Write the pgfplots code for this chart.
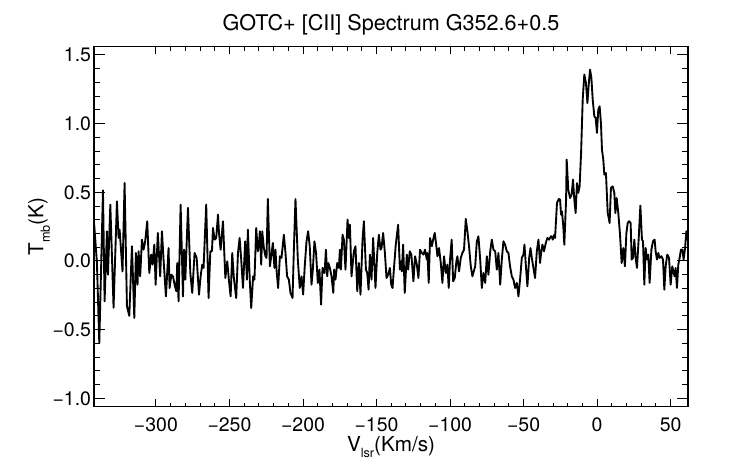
\documentclass[border=0pt]{standalone}
\usepackage{fontspec}
\setmainfont{TeX Gyre Heros}
\usepackage{pgfplots}
\usepackage{pgfplotstable}
\pgfplotsset{compat=1.18}
\newcommand{\sub}[1]{\raisebox{-0.32em}{\fontsize{9.5}{9.5}\selectfont #1}}
\pgfplotstableread{
v T
-342.0 0.270
-340.1 -0.015
-338.5 -0.598
-336.0 0.514
-334.9 -0.294
-333.3 0.216
-332.6 -0.100
-331.0 0.410
-328.8 -0.340
-326.5 0.434
-325.4 0.167
-324.7 0.228
-322.7 -0.076
-321.3 0.568
-319.7 -0.330
-318.1 -0.400
-316.3 0.107
-314.7 -0.415
-313.6 0.058
-312.5 -0.173
-311.8 0.070
-310.7 -0.112
-309.5 0.155
-308.4 0.082
-307.3 0.143
-305.9 0.289
-304.5 -0.088
-303.2 0.046
-302.3 -0.027
-301.1 0.119
-300.2 -0.173
-298.7 0.204
-297.1 -0.112
-295.9 0.216
-294.8 0.010
-293.2 -0.258
-291.4 0.094
-290.7 -0.197
-289.5 -0.100
-288.4 -0.112
-287.3 -0.173
-286.1 -0.221
-285.5 -0.015
-284.6 -0.294
-283.2 0.410
-281.6 -0.258
-280.9 0.082
-280.0 -0.136
-278.2 0.386
-276.6 -0.088
-275.3 -0.233
-273.7 0.058
-272.3 0.022
-270.7 -0.245
-269.6 -0.112
-268.5 -0.027
-267.6 -0.051
-265.8 0.410
-264.2 -0.270
-263.0 0.070
-261.9 0.070
-261.2 0.240
-260.1 0.155
-259.0 0.167
-257.8 0.337
-257.1 0.204
-256.0 0.082
-254.4 0.289
-252.8 -0.124
-251.5 -0.003
-250.3 -0.148
-249.2 -0.258
-248.1 0.058
-247.0 -0.124
-245.4 -0.270
-244.2 0.058
-243.1 0.167
-242.0 0.010
-240.8 -0.197
-239.3 0.143
-238.1 -0.136
-237.5 0.228
-236.1 -0.160
-235.2 -0.343
-233.9 -0.112
-233.0 -0.136
-231.8 0.240
-230.7 0.070
-230.0 0.119
-229.3 0.216
-228.4 -0.027
-227.7 0.216
-226.6 0.094
-225.5 0.034
-224.8 0.022
-223.9 0.451
-222.5 -0.039
-221.4 0.046
-220.5 0.131
-219.4 -0.051
-218.7 0.082
-218.0 -0.063
-216.9 -0.197
-215.7 0.034
-214.6 0.022
-213.0 0.191
-211.9 0.058
-210.8 -0.112
-209.6 -0.136
-208.5 -0.233
-207.1 -0.270
-206.2 0.082
-205.1 0.451
-203.5 0.010
-202.2 -0.197
-201.0 -0.112
-199.9 -0.245
-198.8 -0.039
-197.6 0.143
-196.5 0.216
-195.4 0.107
-194.2 -0.173
-193.3 -0.063
-192.2 0.143
-191.1 0.058
-189.9 -0.160
-188.8 -0.063
-187.7 -0.318
-186.7 -0.051
-185.3 -0.088
-184.4 0.082
-183.5 -0.112
-182.8 -0.015
-181.7 -0.051
-180.6 -0.112
-179.4 -0.233
-178.8 -0.063
-177.9 -0.136
-176.7 -0.015
-175.6 -0.051
-174.9 0.082
-174.2 -0.063
-173.1 0.191
-172.2 0.155
-171.1 -0.063
-169.7 0.301
-168.8 0.167
-168.1 0.264
-167.0 -0.112
-165.4 0.070
-164.3 0.107
-163.1 -0.221
-162.0 -0.015
-160.9 -0.245
-159.5 0.155
-158.6 0.289
-157.2 -0.063
-156.3 -0.088
-155.4 -0.209
-154.5 0.046
-153.4 -0.136
-152.3 0.167
-150.7 -0.197
-149.5 0.058
-148.4 0.191
-147.3 0.082
-146.6 0.094
-145.5 0.204
-144.3 0.058
-143.2 -0.124
-142.1 -0.100
-140.9 -0.051
-140.0 -0.173
-139.1 -0.197
-138.2 -0.063
-136.9 0.119
-135.3 0.264
-134.1 -0.063
-133.5 -0.003
-132.8 -0.076
-131.9 0.119
-130.8 -0.233
-129.4 0.046
-128.5 -0.063
-127.4 0.070
-126.3 0.046
-124.9 -0.148
-123.8 0.034
-122.6 -0.027
-121.5 -0.124
-120.4 0.082
-119.2 0.058
-118.1 0.046
-117.0 0.082
-115.8 0.010
-115.4 0.058
-114.5 -0.160
-113.6 0.167
-112.4 0.107
-111.5 0.155
-110.4 0.204
-109.3 0.107
-108.6 0.034
-107.5 0.094
-106.3 -0.015
-105.2 -0.160
-104.1 0.034
-102.9 -0.088
-101.8 -0.027
-100.9 -0.197
-100.0 0.010
-98.9 0.155
-97.9 -0.148
-96.8 -0.124
-95.7 -0.003
-95.0 0.034
-93.9 -0.076
-92.7 0.022
-91.6 0.058
-90.5 0.082
-89.3 0.306
-88.2 0.216
-87.1 0.107
-85.9 -0.039
-84.8 -0.112
-82.9 -0.039
-81.8 0.143
-80.7 0.179
-79.5 0.010
-78.4 -0.197
-77.3 -0.088
-76.1 -0.160
-75.0 0.034
-73.9 -0.100
-72.7 0.070
-71.6 0.155
-70.5 0.082
-69.3 0.070
-68.2 -0.063
-67.1 0.058
-65.9 -0.173
-64.8 0.010
-63.7 0.143
-62.6 0.119
-61.4 0.070
-60.3 0.058
-59.2 -0.039
-58.0 -0.112
-56.9 -0.136
-55.8 -0.197
-54.6 -0.160
-53.5 -0.258
-52.4 -0.136
-51.2 0.022
-50.1 0.046
-49.4 0.119
-48.5 -0.027
-47.4 -0.185
-46.2 0.022
-45.3 0.094
-44.4 0.022
-43.3 -0.051
-42.2 -0.124
-41.0 0.070
-39.9 0.155
-38.8 -0.015
-38.1 0.058
-37.2 0.119
-36.1 0.070
-34.9 0.131
-33.8 0.167
-32.7 0.155
-31.5 0.179
-30.9 0.179
-30.2 0.155
-29.1 0.191
-28.6 0.167
-27.3 0.422
-26.1 0.451
-25.2 0.446
-24.5 0.337
-23.9 0.361
-23.0 0.252
-22.3 0.118
-21.1 0.446
-20.7 0.738
-19.6 0.519
-18.4 0.458
-17.3 0.483
-16.4 0.592
-15.5 0.446
-14.6 0.349
-13.7 0.567
-12.8 0.495
-11.9 0.543
-10.9 0.786
-9.8 1.175
-8.7 1.357
-7.6 1.296
-6.6 1.150
-5.7 1.284
-4.8 1.393
-3.9 1.332
-3.0 1.175
-1.9 1.053
-1.0 1.041
-0.1 0.932
0.8 1.102
1.7 1.126
2.6 1.005
3.3 0.810
4.2 0.738
4.9 0.628
6.0 0.640
7.2 0.349
7.9 0.313
8.5 0.276
9.4 0.531
10.6 0.543
11.7 0.495
12.4 0.349
13.3 0.458
14.4 0.349
15.5 0.203
16.7 -0.015
17.8 0.094
18.9 -0.039
19.9 0.203
20.8 0.276
21.7 0.289
22.8 0.276
23.5 0.010
24.4 0.022
25.3 0.155
26.2 0.022
27.1 -0.051
28.3 0.167
29.4 0.403
30.5 0.155
31.2 0.143
32.1 -0.173
33.0 0.094
33.9 0.010
34.8 0.046
35.7 -0.160
36.9 0.082
38.0 0.143
39.1 0.155
39.8 0.070
40.7 0.010
41.6 0.058
42.5 0.022
43.7 0.034
44.8 0.010
45.7 -0.209
46.6 -0.039
47.7 0.046
48.9 0.022
50.0 -0.173
51.1 -0.039
52.1 -0.088
52.7 -0.112
53.4 -0.051
54.3 -0.197
55.2 -0.027
56.1 0.022
57.0 0.082
58.0 0.082
58.8 0.010
59.8 0.094
60.7 0.216
61.8 0.150
}\spec
\begin{document}
\begin{tikzpicture}
\begin{axis}[
  width=445.5pt, height=270pt, scale only axis,
  xmin=-342.1, xmax=61.8, ymin=-1.061, ymax=1.56,
  xtick={-300,-250,-200,-150,-100,-50,0,50},
  xticklabels={−300,−250,−200,−150,−100,−50,0,50},
  ytick={-1,-0.5,0,0.5,1,1.5},
  yticklabels={−1.0,−0.5,0.0,0.5,1.0,1.5},
  minor x tick num=4, minor y tick num=4,
  tick align=inside, xtick pos=both, ytick pos=both,
  major tick length=8.25pt, minor tick length=4.5pt,
  x tick style={/pgfplots/major tick length=5.5pt,/pgfplots/minor tick length=3pt},
  tick style={black, line width=0.7pt},
  axis line style={black, line width=0.8pt},
  ticklabel style={font=\fontsize{14.6}{16}\selectfont},
  xticklabel style={yshift=-5pt},
  yticklabel style={xshift=1.3pt},
  title={GOTC+ [CII] Spectrum G352.6+0.5},
  title style={font=\fontsize{16.2}{18}\selectfont, at={(axis description cs:0.5,1.024)}, anchor=base},
  xlabel={V\sub{lsr}(Km/s)},
  xlabel style={font=\fontsize{15.5}{17}\selectfont, at={(axis description cs:0.5,-0.124)}, anchor=base},
  ylabel={T\sub{mb}(K)},
  ylabel style={font=\fontsize{15.5}{17}\selectfont, at={(axis description cs:-0.0853,0.5)}, anchor=base, rotate=0},
]
\addplot[black, line width=1.4pt, line join=round] table[x=v, y=T] {\spec};
\end{axis}
\path ([shift={(-70.5pt,-43pt)}]current axis.south west) rectangle ([shift={(40.5pt,35pt)}]current axis.north east);
\end{tikzpicture}
\end{document}
